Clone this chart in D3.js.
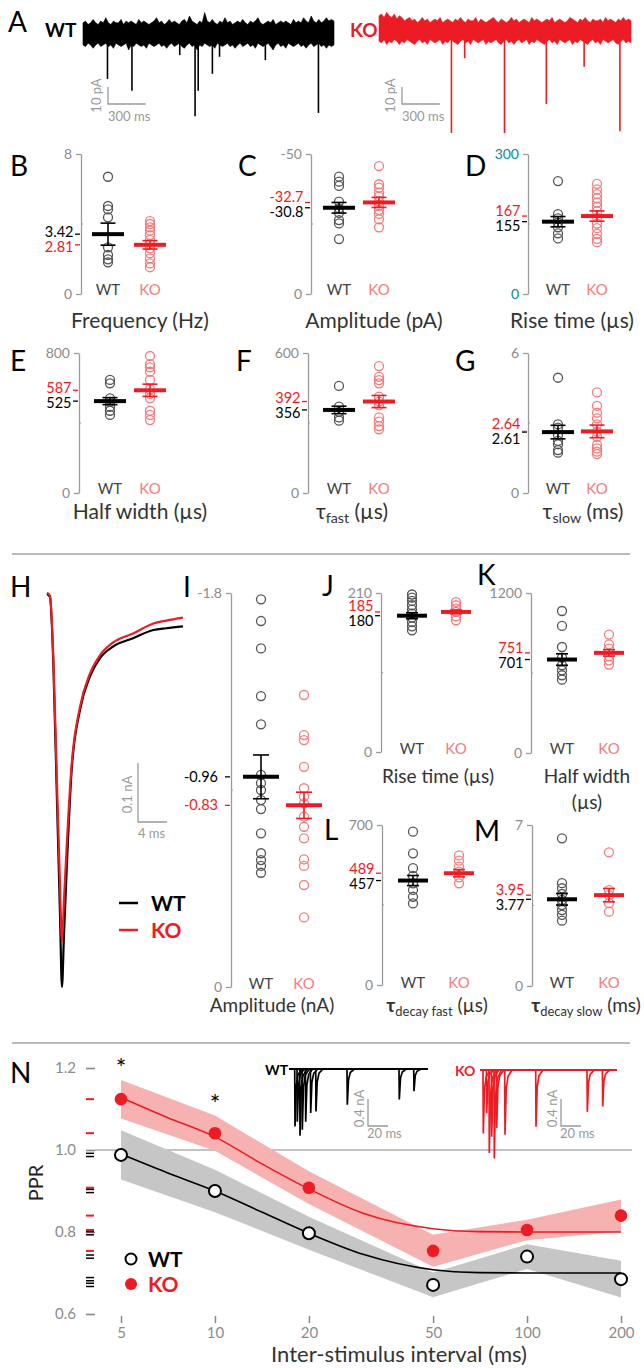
<!DOCTYPE html>
<html><head><meta charset="utf-8">
<script src="https://cdn.jsdelivr.net/npm/d3@7"></script>
<style>body{margin:0;background:#fff}svg{display:block}text{font-family:Lato,'Open Sans',sans-serif}</style>
</head><body><svg id="fig" width="644" height="1368"></svg>
<script>
// ================= DATA =================
const groups = ["WT", "KO"];

// Panel A: noise envelope (pA, evenly spaced bins over 2 s) and events
const aDuration = 2000;
const wtNoiseTop = [6,7,5,6,8,6,5,7,6,9,6,5,7,6,6,8,5,7,6,7,6,5,8,6,7,6,5,6,7,9,6,7,5,6,8,6,7,6,5,7,8,6,10,7,6,5,7,6,12,7,6,8,6,5,7,6,9,6,7,5,6,7,6,8,6,5,7,6,7,9,6,5,6,7,6,8,5,6,7,6,7,6,5,8,6,7,6,9,7,6,10,7,6,8,6,7,9,7,8,7];
const wtNoiseBot = [-7,-8,-6,-7,-9,-7,-6,-8,-7,-6,-8,-7,-9,-6,-7,-8,-7,-6,-10,-7,-8,-6,-7,-8,-7,-9,-6,-7,-8,-7,-6,-8,-7,-9,-7,-6,-8,-7,-6,-8,-9,-7,-6,-8,-7,-10,-7,-8,-6,-7,-8,-7,-9,-6,-7,-8,-7,-6,-8,-7,-9,-7,-6,-8,-7,-6,-8,-7,-9,-6,-7,-8,-7,-6,-8,-10,-7,-6,-8,-7,-9,-6,-7,-8,-7,-6,-8,-7,-9,-7,-6,-8,-7,-6,-8,-7,-9,-7,-8,-7];
const koNoiseTop = [9,10,8,11,9,8,10,7,9,8,6,7,8,6,7,5,6,8,6,7,5,6,7,6,8,5,6,7,6,5,7,6,8,6,5,7,6,6,8,5,7,6,5,6,7,8,6,5,7,6,5,6,8,6,7,5,6,7,6,5,8,6,7,6,5,6,7,6,8,5,6,7,6,5,6,8,7,6,5,7,6,8,6,5,7,6,6,7,5,8,6,7,6,5,7,6,8,6,7,6];
const koNoiseBot = [-6,-7,-5,-8,-6,-7,-5,-6,-8,-6,-7,-5,-6,-7,-8,-6,-5,-7,-6,-8,-5,-6,-7,-6,-5,-8,-6,-7,-5,-6,-7,-8,-6,-5,-7,-6,-8,-5,-6,-7,-6,-5,-8,-6,-7,-6,-5,-7,-8,-6,-5,-7,-6,-8,-6,-5,-7,-6,-5,-8,-6,-7,-5,-6,-7,-8,-6,-5,-7,-6,-8,-5,-6,-7,-6,-5,-8,-6,-7,-5,-6,-7,-8,-6,-5,-7,-6,-8,-5,-6,-7,-6,-5,-7,-8,-6,-5,-7,-6,-7];
const wtEventTimes = [195, 390, 771, 893, 918, 1031, 1088, 1453, 1876];
const wtEventAmps  = [27, 34, 13, 49, 34, 24, 14, 16, 47];
const koEventTimes = [575, 680, 996, 1328, 1628, 1912];
const koEventAmps  = [60, 16, 60, 43, 21, 59];

// Panels B-G (mEPSC)
const freqWT = [6.70, 5.03, 4.84, 4.38, 2.67, 2.23, 1.98, 1.81];
const freqKO = [4.17, 4.0, 3.81, 3.62, 3.37, 3.09, 2.86, 2.61, 2.33, 2.04, 1.75, 1.53];
const freqMean = [3.42, 2.81], freqSEM = [0.63, 0.24];
const ampWT = [-41.9, -40.1, -38.6, -33.0, -30.6, -29.0, -26.4, -25.2, -19.6];
const ampKO = [-45.7, -39.2, -38.0, -36.2, -34.8, -33.0, -31.5, -30.0, -28.6, -26.7, -23.8];
const ampMean = [-30.8, -32.7], ampSEM = [1.9, 1.8];
const riseWT = [242, 171, 162, 153, 143, 130, 119];
const riseKO = [236, 224, 214, 205, 196, 187, 177, 164, 151, 141, 129, 118, 111];
const riseMean = [155, 167], riseSEM = [11, 11];
const hwWT = [646, 627, 541, 521, 493, 470, 446];
const hwKO = [783, 737, 718, 693, 646, 592, 566, 541, 470, 446, 417];
const hwMean = [525, 587], hwSEM = [20, 35];
const tfWT = [459, 370, 348, 324, 310];
const tfKO = [544, 498, 484, 470, 413, 392, 377, 324, 306, 287, 273];
const tfMean = [356, 392], tfSEM = [16, 26];
const tsWT = [4.94, 2.94, 2.80, 2.49, 2.23, 2.09, 1.84, 1.73];
const tsKO = [4.31, 3.73, 3.44, 3.20, 2.94, 2.63, 2.41, 2.06, 1.91, 1.77, 1.67];
const tsMean = [2.61, 2.64], tsSEM = [0.29, 0.27];

// Panel H: averaged evoked currents (ms, nA)
const hTime = [0, 0.41, 0.87, 1.33, 1.79, 2.07, 2.34, 2.71, 3.40, 4.55, 5.93, 7.31, 9.15, 11.9, 14.7, 16.5, 18.8];
const hWT = [0, -0.005, -0.115, -0.327, -0.54, -0.666, -0.58, -0.47, -0.30, -0.197, -0.14, -0.109, -0.089, -0.075, -0.061, -0.058, -0.055];
const hKO = [0.002, -0.003, -0.105, -0.30, -0.49, -0.59, -0.52, -0.43, -0.29, -0.192, -0.135, -0.104, -0.082, -0.067, -0.05, -0.045, -0.04];

// Panels I-M (evoked)
const eAmpWT = [-1.771, -1.672, -1.547, -1.329, -1.20, -0.969, -0.931, -0.90, -0.854, -0.813, -0.702, -0.611, -0.58, -0.553, -0.522];
const eAmpKO = [-1.334, -1.151, -1.128, -1.006, -0.908, -0.87, -0.839, -0.778, -0.732, -0.679, -0.583, -0.553, -0.466, -0.318];
const eAmpMean = [-0.96, -0.83], eAmpSEM = [0.10, 0.06];
const eRiseWT = [208, 204, 199.5, 193.8, 188, 182.8, 177.5, 171.7, 166, 160.7];
const eRiseKO = [198, 193.8, 189.4, 185, 179.2, 174];
const eRiseMean = [180, 185], eRiseSEM = [4, 2.5];
const eHwWT = [1065, 953, 795, 715, 658, 620, 583, 550];
const eHwKO = [888, 815, 783, 725, 695, 663];
const eHwMean = [701, 751], eHwSEM = [43, 24];
const eTfWT = [671, 576, 511, 477, 445, 416, 386, 357];
const eTfKO = [567, 544, 518, 496, 471, 445];
const eTfMean = [457, 489], eTfSEM = [22, 16];
const eTsWT = [6.42, 4.47, 4.25, 4.0, 3.74, 3.52, 3.30, 3.09, 2.84];
const eTsKO = [5.81, 4.17, 3.95, 3.6, 3.23];
const eTsMean = [3.77, 3.95], eTsSEM = [0.25, 0.29];

// Panel N: paired-pulse ratio
const isi = [5, 10, 20, 50, 100, 200];
const pprWT = [0.988, 0.90, 0.797, 0.671, 0.74, 0.685];
const pprWTsem = [0.06, 0.052, 0.04, 0.03, 0.03, 0.045];
const pprKO = [1.124, 1.041, 0.908, 0.754, 0.805, 0.84];
const pprKOsem = [0.047, 0.043, 0.04, 0.039, 0.025, 0.039];
const sigMarks = ["*", "*", "", "", "", ""];
const fitISI = [5, 7, 10, 14, 20, 30, 50, 70, 100, 200];
const fitWT = [0.99, 0.945, 0.90, 0.85, 0.797, 0.745, 0.708, 0.701, 0.70, 0.70];
const fitKO = [1.128, 1.08, 1.032, 0.968, 0.905, 0.845, 0.808, 0.801, 0.80, 0.80];
const nYTicks = [0.6, 0.8, 1.0, 1.2];
// N insets: superimposed paired-pulse sweeps (ms, nA)
const insetWTTimes = [6, 8.3, 11, 13.3, 16.7, 21.7, 27, 58.3, 110.3, 125];
const insetWTAmps  = [0.85, 0.78, 0.99, 0.90, 0.78, 0.65, 0.63, 0.53, 0.45, 0.33];
const insetKOTimes = [3.3, 6.7, 9.3, 11.7, 14.3, 16.7, 25, 56, 107.3, 122.7];
const insetKOAmps  = [0.94, 0.64, 1.23, 0.99, 1.31, 0.86, 0.96, 0.84, 0.62, 0.54];

// ================= DRAWING =================
const RED = "#ec1c24", PINK = "#f37c7c", GRAYPT = "#555", AXIS = "#9a9a9a", TICK = "#8c8c8c", TITLE = "#333";
const svg = d3.select("#fig");
svg.append("rect").attr("width", 644).attr("height", 1368).attr("fill", "#fff");
const fmt = spec => { const f = d3.format(spec); return v => f(v).replace("\u2212", "-"); };

function letter(t, x, y) {
  svg.append("text").attr("x", x).attr("y", y).text(t)
    .attr("font-family", "'Liberation Sans', Arial, sans-serif").attr("font-size", 28).attr("fill", "#000");
}
function hline(y) {
  svg.append("line").attr("x1", 12).attr("x2", 630).attr("y1", y).attr("y2", y).attr("stroke", "#777").attr("stroke-width", 1.2);
}
function rotText(t, x, y, size, color) {
  svg.append("text").attr("transform", `translate(${x},${y}) rotate(-90)`).attr("text-anchor", "middle")
    .attr("font-size", size).attr("fill", color).text(t);
}

// ---- Panel A ----
letter("A", 8, 32);
function traceA(x0, x1, base, top, bot, times, amps, color, label, lx, sx) {
  const env = d3.zip(top, bot), n = env.length;
  const x = d3.scaleLinear().domain([0, aDuration]).range([x0, x1]);
  const y = d3.scaleLinear().domain([0, -10]).range([base, base + 17]);
  const area = d3.area().x((d, i) => x(i * aDuration / (n - 1))).y0(d => y(d[1])).y1(d => y(d[0]));
  svg.append("path").datum(env).attr("d", area).attr("fill", color).attr("stroke", color).attr("stroke-width", 0.6);
  svg.append("g").selectAll("line").data(times).join("line")
    .attr("x1", d => x(d)).attr("x2", d => x(d)).attr("y1", base)
    .attr("y2", (d, i) => y(-amps[i])).attr("stroke", color).attr("stroke-width", 1.6);
  svg.append("text").attr("x", lx).attr("y", 37).text(label).attr("fill", color)
    .attr("font-family", "'Liberation Sans', Arial, sans-serif").attr("font-weight", "bold").attr("font-size", 19);
  // scale bar 10 pA / 300 ms
  const vy0 = 104, vLen = y(-10) - y(0), hLen = x(300) - x(0);
  svg.append("path").attr("d", `M${sx},${vy0 - vLen}V${vy0}H${sx + hLen}`).attr("fill", "none").attr("stroke", "#999").attr("stroke-width", 1.3);
  rotText("10 pA", sx - 7, vy0 - vLen / 2, 13, "#999");
  svg.append("text").attr("x", sx).attr("y", 121).text("300 ms").attr("font-size", 13).attr("fill", "#999");
}
traceA(83, 334, 33, wtNoiseTop, wtNoiseBot, wtEventTimes, wtEventAmps, "#000", "WT", 45, 108);
traceA(379, 631, 31, koNoiseTop, koNoiseBot, koEventTimes, koEventAmps, RED, "KO", 350, 402);

// ---- Dot panels ----
function dotPanel(o) {
  const g = svg.append("g");
  const y = d3.scaleLinear().domain(o.domain).range([o.bot, o.top]);
  const xc = d3.scaleOrdinal().domain(groups).range([o.wtX, o.koX]);
  const axis = d3.axisLeft(y).tickValues(o.domain).tickSize(5).tickSizeOuter(0).tickPadding(4)
    .tickFormat(d => fmt("")(d));
  const ag = g.append("g").attr("transform", `translate(${o.x},0)`).call(axis);
  ag.select(".domain").attr("stroke", AXIS).attr("stroke-width", 1.3);
  ag.selectAll(".tick line").attr("stroke", AXIS).attr("stroke-width", 1.3);
  ag.selectAll(".tick text").attr("fill", o.tickColor || TICK).attr("font-size", 14).attr("font-family", "Lato, sans-serif");
  const mid = (o.domain[0] + o.domain[1]) / 2;
  g.append("line").attr("x1", o.x).attr("x2", o.x + 2).attr("y1", y(mid)).attr("y2", y(mid)).attr("stroke", AXIS);
  const r = o.r || 4.5;
  [o.wt, o.ko].forEach((arr, gi) => {
    g.append("g").selectAll("circle").data(arr).join("circle")
      .attr("cx", xc(groups[gi])).attr("cy", d => y(d)).attr("r", r)
      .attr("fill", "none").attr("stroke", gi ? PINK : GRAYPT).attr("stroke-width", 1.3);
  });
  const bw = o.barHW || 16, cw = o.capHW || 7.5;
  groups.forEach((gr, gi) => {
    const c = gi ? RED : "#000", cx = xc(gr), m = o.mean[gi], s = o.sem[gi];
    g.append("line").attr("x1", cx).attr("x2", cx).attr("y1", y(m - s)).attr("y2", y(m + s)).attr("stroke", c).attr("stroke-width", 1.6);
    [m - s, m + s].forEach(v => g.append("line").attr("x1", cx - cw).attr("x2", cx + cw).attr("y1", y(v)).attr("y2", y(v)).attr("stroke", c).attr("stroke-width", 1.6));
    g.append("line").attr("x1", cx - bw).attr("x2", cx + bw).attr("y1", y(m)).attr("y2", y(m)).attr("stroke", c).attr("stroke-width", 4);
  });
  const ym = o.mean.map(v => y(v));
  let ly = ym.slice();
  if (Math.abs(ym[0] - ym[1]) < 15) {
    const c = (ym[0] + ym[1]) / 2, up = ym[0] < ym[1] ? 0 : 1;
    ly[up] = c - 7.5; ly[1 - up] = c + 7.5;
  }
  const mf = fmt(o.meanFmt);
  groups.forEach((gr, gi) => {
    const c = gi ? RED : "#000";
    g.append("line").attr("x1", o.x - 6).attr("x2", o.x - 1).attr("y1", ym[gi]).attr("y2", ym[gi]).attr("stroke", c).attr("stroke-width", 1.3);
    g.append("text").attr("x", o.x - (o.labOff || 7.5)).attr("y", ly[gi]).attr("dy", "0.33em").attr("text-anchor", "end")
      .attr("font-size", 14.5).attr("fill", c).text(mf(o.mean[gi]));
  });
  groups.forEach((gr, gi) => {
    g.append("text").attr("x", xc(gr)).attr("y", o.catY).attr("text-anchor", "middle").attr("font-size", 15)
      .attr("fill", gi ? PINK : "#444").text(gr);
  });
  letter(o.letter, o.lx, o.ly);
  const t = g.append("text").attr("x", o.titleX).attr("y", o.titleY).attr("text-anchor", "middle")
    .attr("font-size", o.titleSize || 21).attr("fill", TITLE);
  o.title.forEach(p => {
    const ts = t.append("tspan").text(p.t);
    if (p.sub) ts.attr("font-size", "0.68em").attr("dy", p.dy);
    if (p.dy && !p.sub) ts.attr("dy", p.dy);
    if (p.bold) ts.attr("font-weight", "bold");
  });
  if (o.title2) g.append("text").attr("x", o.titleX).attr("y", o.titleY + 26).attr("text-anchor", "middle")
    .attr("font-size", o.titleSize || 21).attr("fill", TITLE).text(o.title2);
}

const row1 = { top: 154, bot: 294, catY: 295, titleY: 328, ly: 176 };
const row2 = { top: 353, bot: 493, catY: 494, titleY: 519, ly: 371 };
dotPanel({ ...row1, x: 81, domain: [0, 8], wtX: 108, koX: 150, wt: freqWT, ko: freqKO, mean: freqMean, sem: freqSEM, meanFmt: ".2f", letter: "B", lx: 10, titleX: 140, title: [{ t: "Frequency (Hz)" }] });
dotPanel({ ...row1, x: 311, domain: [0, -50], wtX: 339, koX: 379, wt: ampWT, ko: ampKO, mean: ampMean, sem: ampSEM, meanFmt: ".1f", letter: "C", lx: 238, titleX: 374, title: [{ t: "Amplitude (pA)" }] });
dotPanel({ ...row1, x: 528, domain: [0, 300], tickColor: "#0b8a8a", wtX: 558, koX: 597, wt: riseWT, ko: riseKO, mean: riseMean, sem: riseSEM, meanFmt: "d", letter: "D", lx: 465, titleX: 572, title: [{ t: "Rise time (\u00b5s)" }] });
dotPanel({ ...row2, x: 79, domain: [0, 800], wtX: 110, koX: 150, wt: hwWT, ko: hwKO, mean: hwMean, sem: hwSEM, meanFmt: "d", letter: "E", lx: 10, titleX: 140, title: [{ t: "Half width (\u00b5s)" }] });
dotPanel({ ...row2, x: 308, domain: [0, 600], wtX: 339, koX: 379, wt: tfWT, ko: tfKO, mean: tfMean, sem: tfSEM, meanFmt: "d", letter: "F", lx: 236, titleX: 352, title: [{ t: "\u03c4" }, { t: "fast", sub: true, dy: 4 }, { t: " (\u00b5s)", dy: -4 }] });
dotPanel({ ...row2, x: 528, domain: [0, 6], wtX: 558, koX: 597, wt: tsWT, ko: tsKO, mean: tsMean, sem: tsSEM, meanFmt: ".2f", letter: "G", lx: 455, titleX: 583, title: [{ t: "\u03c4" }, { t: "slow", sub: true, dy: 4 }, { t: " (ms)", dy: -4 }] });

hline(554);

// ---- Panel H ----
letter("H", 10, 597);
{
  const x = d3.scaleLinear().domain([0, 18.8]).range([47, 183]);
  const y = d3.scaleLinear().domain([0, -0.666]).range([594, 987]);
  const line = d3.line().x((d, i) => x(hTime[i])).y(d => y(d)).curve(d3.curveMonotoneX);
  svg.append("path").datum(hWT).attr("d", line).attr("fill", "none").attr("stroke", "#000").attr("stroke-width", 2.2);
  svg.append("path").datum(hKO).attr("d", line).attr("fill", "none").attr("stroke", RED).attr("stroke-width", 2.2);
  const sx = 138, sy = 822, vLen = y(-0.1) - y(0), hLen = x(4) - x(0);
  svg.append("path").attr("d", `M${sx},${sy - vLen}V${sy}H${sx + hLen}`).attr("fill", "none").attr("stroke", "#999").attr("stroke-width", 1.3);
  rotText("0.1 nA", sx - 6, sy - vLen / 2 + 2, 13, "#999");
  svg.append("text").attr("x", sx).attr("y", 838).text("4 ms").attr("font-size", 13).attr("fill", "#999");
  groups.forEach((gr, gi) => {
    const c = gi ? RED : "#000", yy = 903 + gi * 27;
    svg.append("line").attr("x1", 119).attr("x2", 138).attr("y1", yy).attr("y2", yy).attr("stroke", c).attr("stroke-width", 2.5);
    svg.append("text").attr("x", 151).attr("y", yy + 8).text(gr).attr("fill", c).attr("font-weight", "bold").attr("font-size", 21);
  });
}

// ---- Panels I-M ----
dotPanel({ x: 231, top: 593, bot: 987, domain: [0, -1.8], wtX: 261, koX: 304, wt: eAmpWT, ko: eAmpKO, mean: eAmpMean, sem: eAmpSEM, meanFmt: ".2f", barHW: 18, capHW: 8, labOff: 13, catY: 989, letter: "I", lx: 183, ly: 597, titleX: 272, titleY: 1012, titleSize: 19, title: [{ t: "Amplitude (nA)" }] });
dotPanel({ x: 381, top: 593, bot: 752, domain: [0, 210], wtX: 412, koX: 456, wt: eRiseWT, ko: eRiseKO, mean: eRiseMean, sem: eRiseSEM, meanFmt: "d", barHW: 15, capHW: 6, catY: 754, letter: "J", lx: 322, ly: 596, titleX: 438, titleY: 783, titleSize: 19, title: [{ t: "Rise time (\u00b5s)" }] });
dotPanel({ x: 531, top: 593, bot: 753, domain: [0, 1200], wtX: 562, koX: 609, wt: eHwWT, ko: eHwKO, mean: eHwMean, sem: eHwSEM, meanFmt: "d", barHW: 15, capHW: 6, catY: 754, letter: "K", lx: 477, ly: 585, titleX: 587, titleY: 783, titleSize: 19, title: [{ t: "Half width" }], title2: "(\u00b5s)" });
dotPanel({ x: 382, top: 825, bot: 985, domain: [0, 700], wtX: 413, koX: 459, wt: eTfWT, ko: eTfKO, mean: eTfMean, sem: eTfSEM, meanFmt: "d", barHW: 15, capHW: 6, catY: 988, letter: "L", lx: 324, ly: 840, titleX: 437, titleY: 1012, titleSize: 19, title: [{ t: "\u03c4", bold: true }, { t: "decay fast", sub: true, dy: 4 }, { t: " (\u00b5s)", dy: -4 }] });
dotPanel({ x: 532, top: 825, bot: 986, domain: [0, 7], wtX: 562, koX: 609, wt: eTsWT, ko: eTsKO, mean: eTsMean, sem: eTsSEM, meanFmt: ".2f", barHW: 15, capHW: 6, catY: 988, letter: "M", lx: 474, ly: 841, titleX: 586, titleY: 1012, titleSize: 19, title: [{ t: "\u03c4", bold: true }, { t: "decay slow", sub: true, dy: 4 }, { t: " (ms)", dy: -4 }] });

hline(1043);

// ---- Panel N ----
letter("N", 10, 1083);
{
  const x = d3.scaleLog().domain([5, 200]).range([121, 621]);
  const y = d3.scaleLinear().domain([0.6, 1.2]).range([1314, 1068]);
  svg.append("line").attr("x1", 95).attr("x2", 632).attr("y1", y(1)).attr("y2", y(1)).attr("stroke", "#888").attr("stroke-width", 1.1);
  const band = (m, s) => {
    const up = isi.map((d, i) => [x(d), y(m[i] + s[i])]);
    const lo = isi.map((d, i) => [x(d), y(m[i] - s[i])]).reverse();
    return "M" + up.concat(lo).map(p => p.join(",")).join("L") + "Z";
  };
  svg.append("path").attr("d", band(pprWT, pprWTsem)).attr("fill", "#c6c6c6");
  svg.append("path").attr("d", band(pprKO, pprKOsem)).attr("fill", "#f6b1b1");
  const fl = d3.line().x((d, i) => x(fitISI[i])).y(d => y(d)).curve(d3.curveMonotoneX);
  svg.append("path").datum(fitWT).attr("d", fl).attr("fill", "none").attr("stroke", "#000").attr("stroke-width", 1.6);
  svg.append("path").datum(fitKO).attr("d", fl).attr("fill", "none").attr("stroke", RED).attr("stroke-width", 1.6);
  svg.append("g").selectAll("circle").data(pprWT).join("circle").attr("cx", (d, i) => x(isi[i])).attr("cy", d => y(d))
    .attr("r", 6).attr("fill", "#fff").attr("stroke", "#000").attr("stroke-width", 2);
  svg.append("g").selectAll("circle").data(pprKO).join("circle").attr("cx", (d, i) => x(isi[i])).attr("cy", d => y(d))
    .attr("r", 6.3).attr("fill", RED);
  svg.append("g").selectAll("text").data(sigMarks).join("text").attr("x", (d, i) => x(isi[i])).attr("y", (d, i) => y(pprKO[i] + pprKOsem[i]) - 3)
    .attr("text-anchor", "middle").attr("font-size", 25).attr("font-family", "'Liberation Sans', Arial, sans-serif").attr("fill", "#000").text(d => d);
  const ya = svg.append("g").attr("transform", "translate(95,0)").call(d3.axisLeft(y).tickValues(nYTicks).tickSize(9).tickPadding(10).tickFormat(d3.format(".1f")));
  ya.select(".domain").remove();
  ya.selectAll(".tick line").attr("stroke", "#888").attr("stroke-width", 1.6);
  ya.selectAll(".tick text").attr("fill", TICK).attr("font-size", 15).attr("font-family", "Lato, sans-serif");
  svg.append("g").selectAll("line").data(pprKO).join("line").attr("x1", 86).attr("x2", 94).attr("y1", d => y(d)).attr("y2", d => y(d)).attr("stroke", RED).attr("stroke-width", 2);
  pprWT.forEach(v => [-1.6, 1.6].forEach(o => svg.append("line").attr("x1", 86).attr("x2", 94).attr("y1", y(v) + o).attr("y2", y(v) + o).attr("stroke", "#000").attr("stroke-width", 1.5)));
  const xa = svg.append("g").attr("transform", "translate(0,1316)").call(d3.axisBottom(x).tickValues(isi).tickSize(7).tickPadding(4).tickFormat(d3.format("d")));
  xa.select(".domain").remove();
  xa.selectAll(".tick line").attr("stroke", "#888").attr("stroke-width", 1.5);
  xa.selectAll(".tick text").attr("fill", TICK).attr("font-size", 15).attr("font-family", "Lato, sans-serif");
  svg.append("text").attr("x", 399).attr("y", 1362).attr("text-anchor", "middle").attr("font-size", 22).attr("fill", TITLE).text("Inter-stimulus interval (ms)");
  rotText("PPR", 43, 1183, 20, "#222");
  svg.append("circle").attr("cx", 131).attr("cy", 1259).attr("r", 5.5).attr("fill", "#fff").attr("stroke", "#000").attr("stroke-width", 2);
  svg.append("text").attr("x", 148).attr("y", 1267).text("WT").attr("font-size", 21).attr("font-weight", "bold").attr("fill", "#000");
  svg.append("circle").attr("cx", 131).attr("cy", 1284).attr("r", 6).attr("fill", RED);
  svg.append("text").attr("x", 148).attr("y", 1292).text("KO").attr("font-size", 21).attr("font-weight", "bold").attr("fill", RED);
  function inset(x0, x1, tMax, base, times, amps, color, label, lx, sx) {
    const ix = d3.scaleLinear().domain([0, tMax]).range([x0, x1]);
    const iy = d3.scaleLinear().domain([0, -1]).range([base, base + 67.5]);
    svg.append("line").attr("x1", x0).attr("x2", x1).attr("y1", base).attr("y2", base).attr("stroke", color).attr("stroke-width", 1.8);
    times.forEach((t, i) => {
      const a = amps[i];
      const p = [[t - 0.3, 0], [t, -a], [t + 1.2, -0.3 * a], [t + 3, -0.1 * a], [t + 7, 0]];
      svg.append("path").attr("d", d3.line().x(d => ix(d[0])).y(d => iy(d[1]))(p)).attr("fill", "none").attr("stroke", color).attr("stroke-width", 1.7);
    });
    svg.append("text").attr("x", lx).attr("y", base + 6).text(label).attr("fill", color).attr("font-weight", "bold").attr("font-size", 14);
    const vLen = iy(-0.4) - iy(0), hLen = ix(20) - ix(0), by = 1126;
    svg.append("path").attr("d", `M${sx},${by - vLen}V${by}H${sx + hLen}`).attr("fill", "none").attr("stroke", "#999").attr("stroke-width", 1.3);
    rotText("0.4 nA", sx - 4, by - vLen / 2 - 4, 13, "#999");
    svg.append("text").attr("x", sx - 1).attr("y", 1138).text("20 ms").attr("font-size", 13).attr("fill", "#999");
  }
  inset(289, 428, 139, 1069, insetWTTimes, insetWTAmps, "#000", "WT", 265, 368);
  inset(480, 617, 137, 1070, insetKOTimes, insetKOAmps, RED, "KO", 455, 561);
}
</script></body></html>
